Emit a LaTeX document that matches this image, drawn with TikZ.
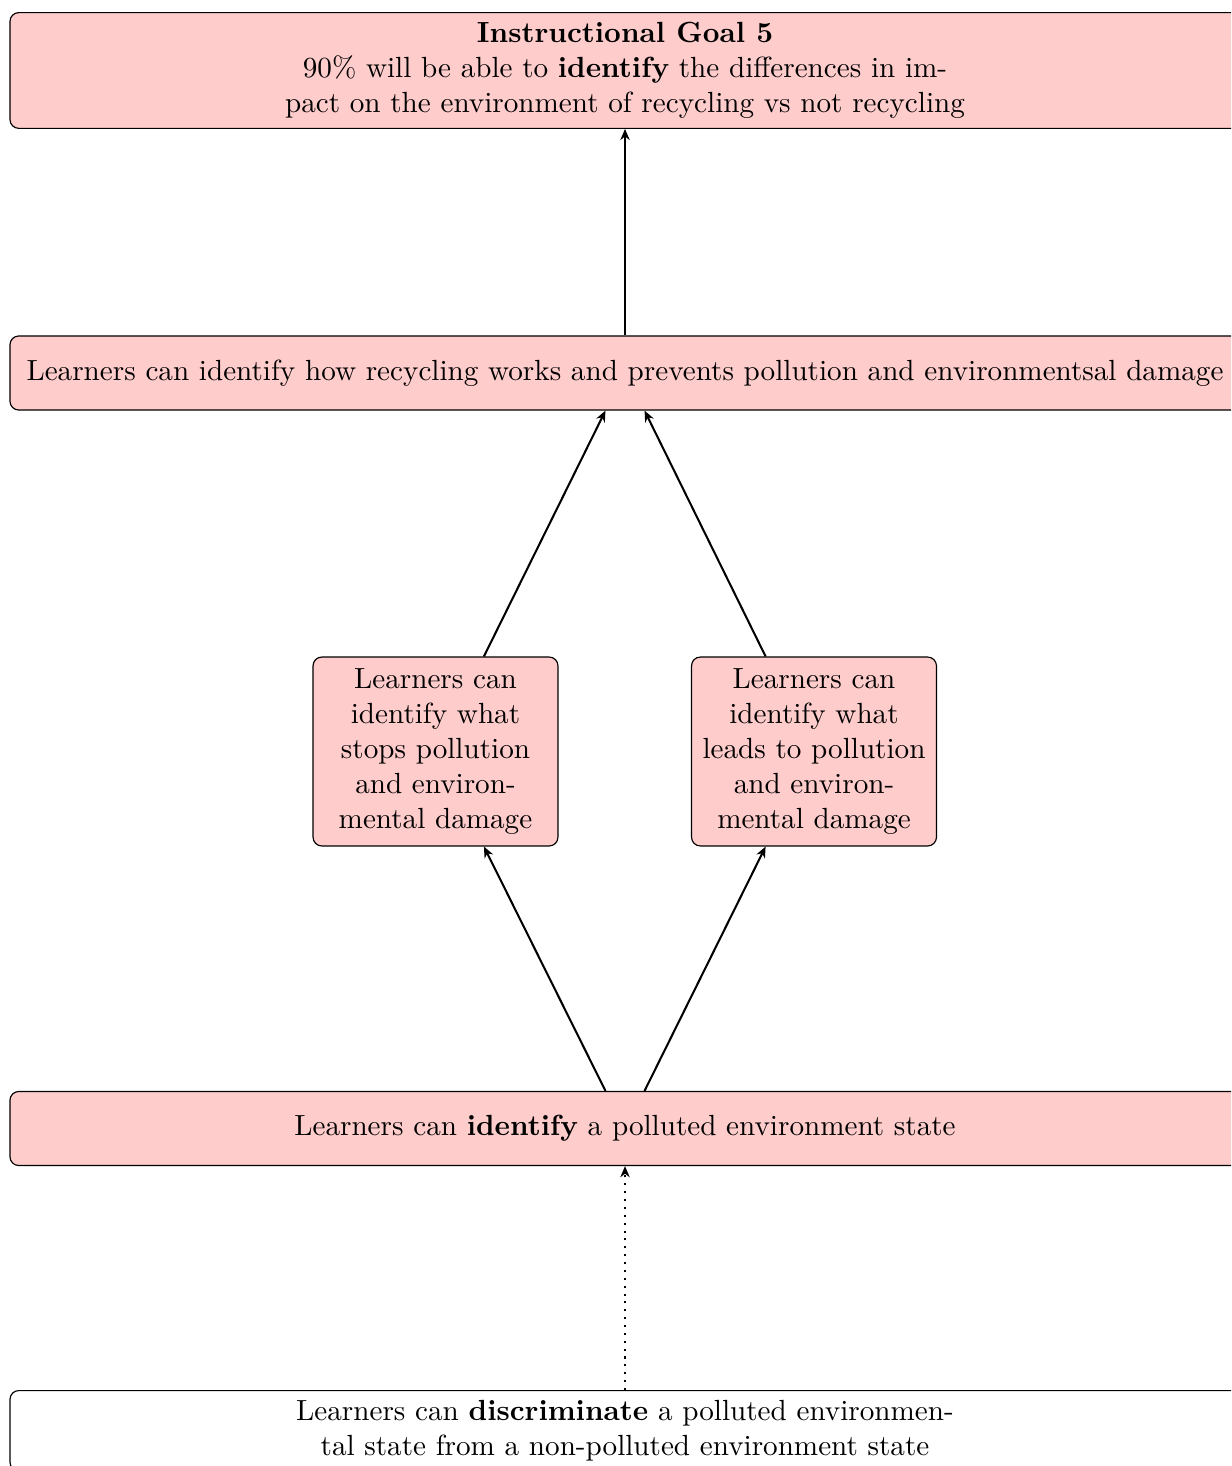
\documentclass[tikz,border=0pt]{standalone}
\usetikzlibrary{arrows.meta}
\begin{document}
\begin{tikzpicture}[x=0.343pt,y=-0.343pt,
  box/.style={draw, line width=0.4pt, rounded corners=3pt, align=center, inner sep=3.33pt},
  pinkbox/.style={box, fill=red!20},
  widebox/.style={minimum width=421.9pt},
  smallbox/.style={pinkbox, minimum width=84pt, minimum height=64.8pt},
  flowarrow/.style={line width=0.7pt, -{Stealth[length=3.8pt,width=3.2pt,inset=1.2pt]}}
]
\useasboundingbox (0,0) rectangle (1231,1466);
\clip (0,0) rectangle (1231,1466);

% objectives, top to bottom
\node[pinkbox, widebox] (goal) at (625,70.5)
  {\textbf{Instructional Goal 5}\\90\% will be able to \textbf{identify} the differences in im-\\pact on the environment of recycling vs not recycling};
\node[pinkbox, widebox, minimum height=25.4pt] (works) at (625,373)
  {Learners can identify how recycling works and prevents pollution and environmentsal damage};
\node[smallbox] (stops) at (435.5,751.5)
  {Learners can\\identify what\\stops pollution\\and environ-\\mental damage};
\node[smallbox] (leads) at (814,751.5)
  {Learners can\\identify what\\leads to pollution\\and environ-\\mental damage};
\node[pinkbox, widebox, minimum height=25.4pt] (state) at (625,1128.5)
  {Learners can \textbf{identify} a polluted environment state};
\node[box, widebox, fill=white, anchor=north] (discr) at (625,1390)
  {Learners can \textbf{discriminate} a polluted environmen-\\tal state from a non-polluted environment state};

% prerequisite links
\draw[flowarrow] (works.north) -- (goal.south);
\draw[flowarrow] ([xshift=16.6pt]stops.north) -- ([xshift=-6.7pt]works.south);
\draw[flowarrow] ([xshift=-16.6pt]leads.north) -- ([xshift=6.7pt]works.south);
\draw[flowarrow] ([xshift=-6.7pt]state.north) -- ([xshift=16.6pt]stops.south);
\draw[flowarrow] ([xshift=6.7pt]state.north) -- ([xshift=-16.6pt]leads.south);
\draw[flowarrow, dotted] (discr.north) -- (state.south);
\end{tikzpicture}
\end{document}
